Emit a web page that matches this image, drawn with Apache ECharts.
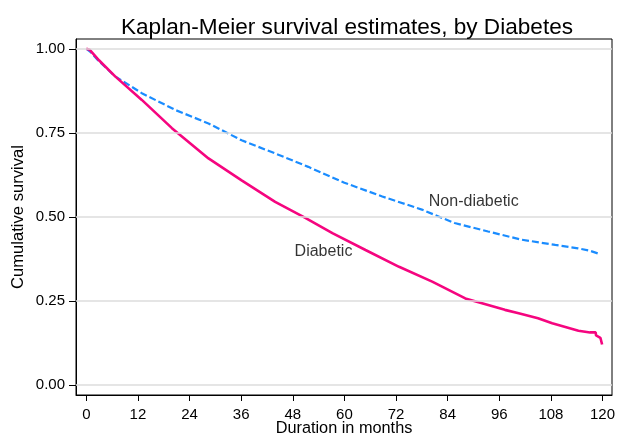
<!DOCTYPE html>
<html>
<head>
<meta charset="utf-8">
<script src="https://cdn.jsdelivr.net/npm/echarts@6/dist/echarts.min.js"></script>
<style>
  html, body { margin: 0; padding: 0; background: #fff; }
  #container { width: 619px; height: 437px; }
</style>
</head>
<body>
<div id="container"></div>
<script>
// months and survival
var nonDiabMonths = [0, 1, 3, 6.7, 12.9, 20.7, 28.4, 36.1, 43.9, 51.6, 60, 68.8, 78, 85.6, 93.4, 101, 109, 114.3, 117, 119.3];
var nonDiabSurv   = [1.0, 0.99, 0.962, 0.918, 0.868, 0.818, 0.778, 0.728, 0.689, 0.649, 0.602, 0.561, 0.522, 0.482, 0.457, 0.433, 0.417, 0.407, 0.40, 0.390];

var diabMonths = [0, 0.8, 3, 6.7, 12.9, 19.9, 28.4, 36.1, 43.9, 50.8, 57.2, 64.9, 72.7, 80.4, 88.1, 93, 97.3, 100.5, 105, 108.3, 114.4, 117.1, 118.4, 118.5, 119.5, 119.6, 119.9];
var diabSurv   = [1.0, 0.997, 0.965, 0.918, 0.848, 0.764, 0.674, 0.609, 0.545, 0.498, 0.452, 0.402, 0.352, 0.308, 0.258, 0.240, 0.224, 0.214, 0.199, 0.184, 0.162, 0.157, 0.157, 0.148, 0.141, 0.141, 0.121];

var xTicks = [0, 12, 24, 36, 48, 60, 72, 84, 96, 108, 120];
var yTicks = [0, 0.25, 0.5, 0.75, 1];

var labelNames  = ['Non-diabetic', 'Diabetic'];
var labelMonths = [79.5, 48.3];
var labelSurv   = [0.546, 0.398];

function pairs(xs, ys) {
    var out = [];
    for (var i = 0; i < xs.length; i++) {
        out.push([xs[i], ys[i]]);
    }
    return out;
}

var font = 'Liberation Sans, Arial, Helvetica, sans-serif';

var dom = document.getElementById('container');
var myChart = echarts.init(dom, null, { renderer: 'canvas' });

var option = {
    animation: false,
    backgroundColor: '#fff',
    title: {
        text: 'Kaplan-Meier survival estimates, by Diabetes',
        left: 342,
        textAlign: 'center',
        top: 11,
        textStyle: { fontFamily: font, fontSize: 22.6, fontWeight: 'normal', color: '#000' }
    },
    grid: {
        left: 76, right: 7, top: 39, bottom: 42,
        outerBoundsMode: 'none',
        containLabel: false,
        show: true,
        borderColor: '#000',
        borderWidth: 1
    },
    xAxis: {
        type: 'value',
        min: -2.4,
        max: 122.2,
        name: 'Duration in months',
        nameLocation: 'middle',
        nameGap: 26,
        nameMoveOverlap: false,
        nameTextStyle: { fontFamily: font, fontSize: 16.3, color: '#000' },
        axisLine: { show: true, onZero: false, lineStyle: { color: '#000', width: 1 } },
        axisTick: { show: true, length: 6, customValues: xTicks, lineStyle: { color: '#000' } },
        axisLabel: { customValues: xTicks, margin: 12, fontFamily: font, fontSize: 15, color: '#000' },
        splitLine: { show: false }
    },
    yAxis: {
        type: 'value',
        min: -0.029,
        max: 1.029,
        name: 'Cumulative survival',
        nameLocation: 'middle',
        nameGap: 49,
        nameMoveOverlap: false,
        nameTextStyle: { fontFamily: font, fontSize: 16.6, color: '#000' },
        axisLine: { show: true, onZero: false, lineStyle: { color: '#000', width: 1 } },
        axisTick: { show: true, length: 7, customValues: yTicks, lineStyle: { color: '#000' } },
        axisLabel: {
            customValues: yTicks,
            margin: 11,
            fontFamily: font, fontSize: 15, color: '#000',
            formatter: function (v) { return v.toFixed(2); }
        },
        splitLine: { show: false }
    },
    series: [
        {
            // grid lines at the tick values
            type: 'line',
            data: [],
            silent: true,
            markLine: {
                silent: true,
                symbol: 'none',
                label: { show: false },
                lineStyle: { color: '#dcdcdc', width: 1.5, type: 'solid' },
                data: yTicks.map(function (v) { return { yAxis: v }; })
            }
        },
        {
            name: 'Non-diabetic',
            type: 'line',
            data: pairs(nonDiabMonths, nonDiabSurv),
            showSymbol: false,
            symbol: 'none',
            lineStyle: { color: '#1a8cff', width: 2.2, type: [7, 3] },
            z: 3
        },
        {
            name: 'Diabetic',
            type: 'line',
            data: pairs(diabMonths, diabSurv),
            showSymbol: false,
            symbol: 'none',
            lineStyle: { color: '#f5057f', width: 2.6 },
            z: 4
        },
        {
            type: 'scatter',
            data: pairs(labelMonths, labelSurv),
            symbolSize: 1,
            itemStyle: { color: 'rgba(0,0,0,0)' },
            silent: true,
            label: {
                show: true,
                position: 'right',
                distance: 0,
                fontFamily: font,
                fontSize: 16,
                color: '#000',
                formatter: function (p) { return labelNames[p.dataIndex]; }
            },
            z: 5
        }
    ]
};

if (option && typeof option === 'object') {
    myChart.setOption(option, true);
}
</script>
</body>
</html>
